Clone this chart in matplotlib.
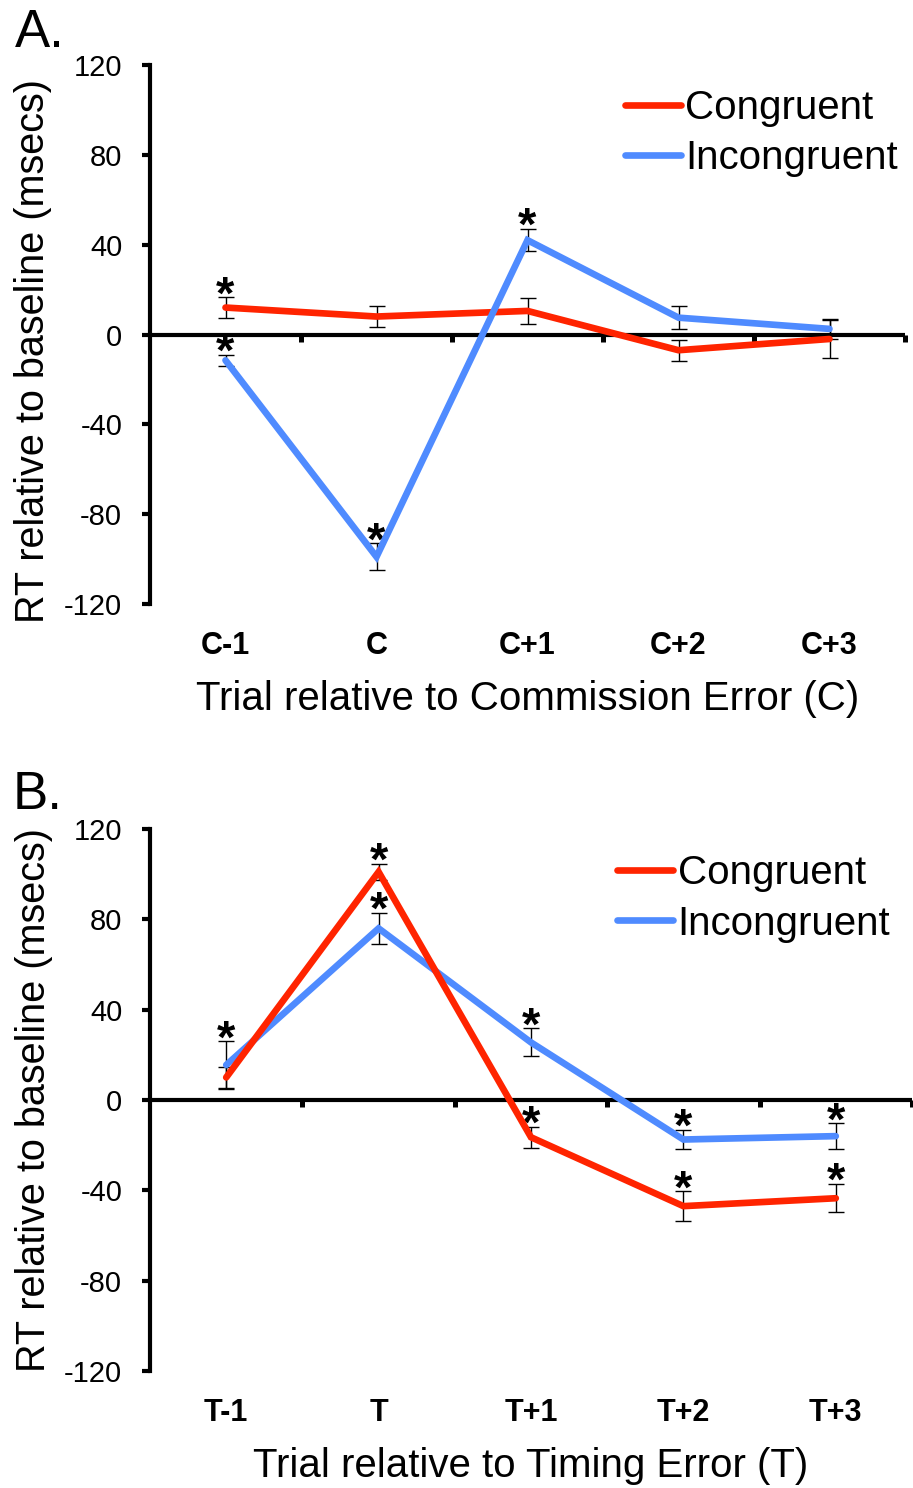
import matplotlib
matplotlib.use("Agg")
import matplotlib.pyplot as plt

plt.rcParams['font.family'] = ['Liberation Sans', 'DejaVu Sans']

RED = '#FF2400'
BLUE = '#4F8BFF'

# Panel A: trials relative to commission error
cats_a = ['C-1', 'C', 'C+1', 'C+2', 'C+3']
cong_a = [12, 8, 10.5, -7, -2]
cong_a_err = [4.5, 4.8, 5.7, 4.7, 8.5]
incong_a = [-11.5, -99, 42, 7.5, 2.5]
incong_a_err = [2.5, 6, 5, 5, 4.5]
star_cong_a = [True, False, False, False, False]
star_incong_a = [True, True, True, False, False]

# Panel B: trials relative to timing error
cats_b = ['T-1', 'T', 'T+1', 'T+2', 'T+3']
cong_b = [10, 101, -16.5, -47, -43.5]
cong_b_err = [4.5, 3.7, 4.6, 6.6, 6.3]
incong_b = [15.5, 76, 25.5, -17.5, -16]
incong_b_err = [10.5, 7, 6.2, 4.3, 5.7]
star_cong_b = [False, True, True, True, True]
star_incong_b = [True, True, True, True, True]

yticks = [-120, -80, -40, 0, 40, 80, 120]

W, H = 913, 1488
fig = plt.figure(figsize=(W / 100, H / 100), dpi=100)


def panel(rect, cats, cong, cong_err, incong, incong_err, st_c, st_i,
          xlabel, leg_anchor, top_line):
    ax = fig.add_axes(rect)
    xs = [i + 0.5 for i in range(len(cats))]

    ax.errorbar(xs, cong, yerr=cong_err, fmt='none', ecolor='black',
                elinewidth=1, capsize=5.5, capthick=1, zorder=2)
    ax.errorbar(xs, incong, yerr=incong_err, fmt='none', ecolor='black',
                elinewidth=1, capsize=5.5, capthick=1, zorder=2)
    zc, zi = (4, 3) if top_line == 'cong' else (3, 4)
    ax.plot(xs, cong, color=RED, lw=4.8, label='Congruent', zorder=zc,
            solid_capstyle='round', solid_joinstyle='miter')
    ax.plot(xs, incong, color=BLUE, lw=4.8, label='Incongruent', zorder=zi,
            solid_capstyle='round', solid_joinstyle='miter')

    for x, y, e, s in zip(xs, cong, cong_err, st_c):
        if s:
            ax.annotate('*', xy=(x, y + e), xytext=(0, -11),
                        textcoords='offset pixels', ha='center',
                        va='baseline', fontsize=34, fontweight='bold')
    for x, y, e, s in zip(xs, incong, incong_err, st_i):
        if s:
            ax.annotate('*', xy=(x, y + e), xytext=(0, -11),
                        textcoords='offset pixels', ha='center',
                        va='baseline', fontsize=34, fontweight='bold')

    ax.set_xlim(0, 5)
    ax.set_ylim(-120, 120)
    for s in ['top', 'right']:
        ax.spines[s].set_visible(False)
    ax.spines['left'].set_linewidth(3)
    ax.spines['bottom'].set_position(('data', 0))
    ax.spines['bottom'].set_linewidth(3)
    ax.spines['bottom'].set_capstyle('butt')

    ax.set_xticks([1, 2, 3, 4, 5])
    ax.tick_params(axis='x', direction='out', length=5, width=3.6,
                   labelbottom=False)
    ax.set_yticks(yticks)
    ax.set_yticklabels([str(v) for v in yticks])
    ax.tick_params(axis='y', direction='out', length=6, width=3,
                   labelsize=21, pad=14)

    for x, c in zip(xs, cats):
        ax.annotate(c, xy=(x, -120), xytext=(0, -42),
                    textcoords='offset pixels', ha='center', va='center',
                    fontsize=22, fontweight='bold')
    ax.annotate(xlabel, xy=(2.5, -120), xytext=(0, -95),
                textcoords='offset pixels', ha='center', va='center',
                fontsize=29)
    ax.set_ylabel('RT relative to baseline (msecs)', fontsize=28.5)

    ax.legend(loc='upper left', bbox_to_anchor=leg_anchor, frameon=False,
              fontsize=29, handlelength=1.4, handletextpad=0.1,
              borderaxespad=0, borderpad=0, labelspacing=0.3)
    return ax


ax_a = panel([150 / W, 884 / H, 755 / W, 539 / H], cats_a, cong_a, cong_a_err,
             incong_a, incong_a_err, star_cong_a, star_incong_a,
             'Trial relative to Commission Error (C)', (0.629, 0.955), 'incong')
ax_a.yaxis.set_label_coords(-0.13, 0.47)

ax_b = panel([150 / W, 117 / H, 762 / W, 542 / H], cats_b, cong_b, cong_b_err,
             incong_b, incong_b_err, star_cong_b, star_incong_b,
             'Trial relative to Timing Error (T)', (0.613, 0.953), 'cong')
ax_b.yaxis.set_label_coords(-0.127, 0.5)

fig.text(15 / W, 1 - 33 / H, 'A.', fontsize=38, va='center', ha='left')
fig.text(13 / W, 1 - 795 / H, 'B.', fontsize=38, va='center', ha='left')

fig.savefig('out.png', dpi=100)
